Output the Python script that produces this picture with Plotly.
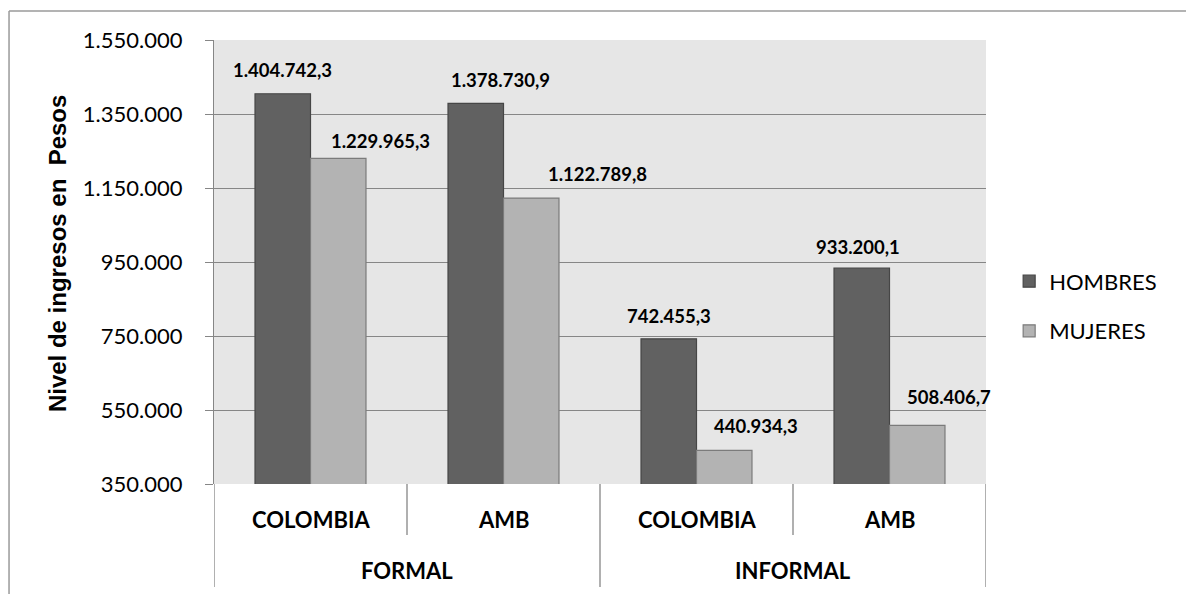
import plotly.graph_objects as go

# Ingresos medios por sexo, sector (formal / informal) y ámbito geográfico
groups = ["FORMAL", "FORMAL", "INFORMAL", "INFORMAL"]
places = ["COLOMBIA", "AMB", "COLOMBIA", "AMB"]
hombres = [1404742.3, 1378730.9, 742455.3, 933200.1]
mujeres = [1229965.3, 1122789.8, 440934.3, 508406.7]
y_ticks = [350000, 550000, 750000, 950000, 1150000, 1350000, 1550000]

cats = [f"{g} {p}" for g, p in zip(groups, places)]


def fmt_es(v):
    s = f"{v:,.1f}"
    return s.replace(",", "X").replace(".", ",").replace("X", ".")


GRID = "#868686"
C_H, L_H = "#616161", "#464646"
C_M, L_M = "#b3b3b3", "#7b7b7b"

fig = go.Figure()
fig.add_trace(go.Bar(x=cats, y=hombres, name="HOMBRES", legendgroup="h",
                     marker=dict(color=C_H, line=dict(color=L_H, width=1.2))))
fig.add_trace(go.Bar(x=cats, y=mujeres, name="MUJERES", legendgroup="m",
                     marker=dict(color=C_M, line=dict(color=L_M, width=1.2))))

# data labels (pixel offsets from the bar top centre)
half_bar = 27.8
h_dx, h_dy = [0, 25, 0, -4], [24, 23, 23, 21]
m_dx, m_dy = [42, 66, 32, 32], [17, 24, 24, 28]
LABEL_FONT = dict(family="Lato", size=18.5, color="#000000", weight="bold")
annotations = []
for i, c in enumerate(cats):
    annotations.append(dict(x=c, y=hombres[i], text=fmt_es(hombres[i]),
                            xshift=-half_bar + h_dx[i], yshift=h_dy[i],
                            xanchor="center", yanchor="middle", showarrow=False,
                            font=LABEL_FONT))
    annotations.append(dict(x=c, y=mujeres[i], text=fmt_es(mujeres[i]),
                            xshift=half_bar + m_dx[i], yshift=m_dy[i],
                            xanchor="center", yanchor="middle", showarrow=False,
                            font=LABEL_FONT))

# two-level category labels under the plot
CAT_FONT = dict(family="Lato", size=22, color="#000000", weight="bold")
for i, c in enumerate(cats):
    annotations.append(dict(x=c, y=-0.081, yref="paper", text=places[i], showarrow=False,
                            xanchor="center", yanchor="middle", font=CAT_FONT))
for j, g in enumerate(["FORMAL", "INFORMAL"]):
    annotations.append(dict(x=2 * j + 0.5, y=-0.194, yref="paper", text=g, showarrow=False,
                            xanchor="center", yanchor="middle", font=CAT_FONT))

# axis title
annotations.append(dict(x=-0.2034, y=0.52, xref="paper", yref="paper",
                        text="Nivel de ingresos en\u00a0 Pesos", textangle=-90,
                        xanchor="center", yanchor="middle", showarrow=False,
                        font=dict(family="Liberation Sans", size=24, color="#000000", weight="bold")))

shapes = []
for xb in [0.5, 2.5]:
    shapes.append(dict(type="line", xref="x", yref="paper", x0=xb, x1=xb, y0=0, y1=-0.115,
                       line=dict(color=GRID, width=1.3)))
for xb in [-0.5, 1.5, 3.5]:
    shapes.append(dict(type="line", xref="x", yref="paper", x0=xb, x1=xb, y0=0, y1=-0.232,
                       line=dict(color=GRID, width=1.3)))
# chart frame
shapes.append(dict(type="line", xref="paper", yref="paper", x0=-0.2655, x1=1.3,
                   y0=1.0653, y1=1.0653, line=dict(color="#9a9a9a", width=1.5)))
shapes.append(dict(type="line", xref="paper", yref="paper", x0=-0.2655, x1=-0.2655,
                   y0=1.0653, y1=-0.3, line=dict(color="#9a9a9a", width=1.5)))

fig.update_layout(
    width=1186, height=594,
    margin=dict(l=214, r=200, t=40, b=110),
    paper_bgcolor="#ffffff", plot_bgcolor="#e6e6e6",
    separators=",.",
    barmode="group", bargap=0.425, bargroupgap=0,
    font=dict(family="Lato", color="#000000"),
    showlegend=True,
    legend=dict(x=1.03, y=0.40, xanchor="left", yanchor="middle",
                font=dict(family="Lato", size=22, color="#000000"),
                tracegroupgap=18, traceorder="grouped", bgcolor="rgba(0,0,0,0)"),
    annotations=annotations, shapes=shapes,
)
fig.update_xaxes(showticklabels=False, showgrid=False, zeroline=False,
                 range=[-0.5, 3.5], showline=False, ticks="")
fig.update_yaxes(range=[350000, 1550000], tickvals=y_ticks, tickformat=",.0f",
                 showgrid=True, gridcolor=GRID, gridwidth=1.3, zeroline=False,
                 showline=True, linecolor=GRID, linewidth=1.3,
                 ticks="outside", ticklen=8, tickcolor=GRID, tickwidth=1.3,
                 ticklabelstandoff=18,
                 tickfont=dict(family="Lato", size=22, color="#000000"))

fig.write_html("out.html")
